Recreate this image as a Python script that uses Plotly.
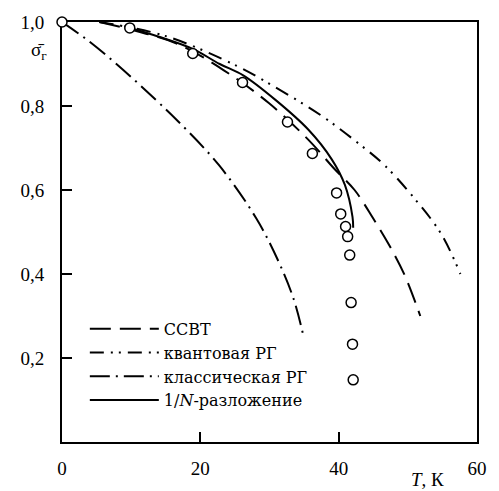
import plotly.graph_objects as go

# ССВТ (long dash)
ssvt_T = [5.4, 10.6, 16.7, 23.4, 29.9, 35.6, 39.4, 42.3, 45.0, 47.4, 49.6, 51.8]
ssvt_s = [1.0, 0.979, 0.948, 0.885, 0.807, 0.72, 0.65, 0.60, 0.532, 0.466, 0.395, 0.30]

# квантовая РГ (dash-dot-dot)
qrg_T = [5.4, 14.9, 25.2, 30.6, 37.6, 42.7, 46.5, 50.8, 54.8, 57.6]
qrg_s = [1.0, 0.967, 0.896, 0.847, 0.776, 0.713, 0.661, 0.583, 0.496, 0.40]

# классическая РГ (dash-dot)
crg_T = [0.0, 4.0, 8.9, 13.6, 16.7, 22.7, 28.1, 31.3, 33.5, 34.8]
crg_s = [1.0, 0.953, 0.885, 0.814, 0.765, 0.659, 0.532, 0.43, 0.34, 0.26]

# 1/N-разложение (solid)
n_T = [9.0, 14.0, 18.9, 22.8, 26.2, 30.9, 35.6, 39.0, 40.9, 42.0, 42.1]
n_s = [0.99, 0.965, 0.936, 0.90, 0.873, 0.814, 0.744, 0.673, 0.612, 0.536, 0.51]

# experimental points
exp_T = [0.0, 9.8, 18.9, 26.1, 32.6, 36.2, 39.7, 40.3, 41.0, 41.3, 41.6, 41.8, 42.0, 42.1]
exp_s = [1.0, 0.986, 0.925, 0.856, 0.762, 0.687, 0.593, 0.543, 0.513, 0.489, 0.445, 0.332, 0.233, 0.148]

x_ticks = [0, 20, 40, 60]
x_labels = ["0", "20", "40", "60"]
y_ticks = [0.2, 0.4, 0.6, 0.8, 1.0]
y_labels = ["0,2", "0,4", "0,6", "0,8", "1,0"]

FONT = "Times New Roman"
LEGEND_FONT = "DejaVu Serif"
fig = go.Figure()
fig.add_trace(go.Scatter(x=ssvt_T, y=ssvt_s, mode="lines", name="ССВТ",
                         line=dict(color="black", width=2, dash="21px,9px", shape="spline")))
fig.add_trace(go.Scatter(x=qrg_T, y=qrg_s, mode="lines", name="квантовая РГ",
                         line=dict(color="black", width=2, dash="14px,7px,2px,6px,2px,7px", shape="spline")))
fig.add_trace(go.Scatter(x=crg_T, y=crg_s, mode="lines", name="классическая РГ",
                         line=dict(color="black", width=2, dash="20px,6px,2px,6px", shape="spline")))
fig.add_trace(go.Scatter(x=n_T, y=n_s, mode="lines", name="1/<i>N</i>-разложение",
                         line=dict(color="black", width=2, shape="spline")))
fig.add_trace(go.Scatter(x=exp_T, y=exp_s, mode="markers", showlegend=False,
                         cliponaxis=False,
                         marker=dict(symbol="circle", size=10, color="white",
                                     line=dict(color="black", width=1.5))))

fig.update_layout(
    width=499, height=491,
    margin=dict(l=62, r=13, t=18, b=48),
    plot_bgcolor="white", paper_bgcolor="white",
    font=dict(family=FONT, size=19, color="black"),
    showlegend=True,
    legend=dict(x=0.055, y=0.31, xanchor="left", yanchor="top",
                bgcolor="rgba(0,0,0,0)", borderwidth=0,
                font=dict(family=LEGEND_FONT, size=16), itemwidth=69,
                tracegroupgap=0),
)
fig.update_xaxes(range=[0, 60], tickvals=x_ticks, ticktext=x_labels,
                 ticks="inside", ticklen=10, tickwidth=1.5, tickcolor="black",
                 showline=True, linecolor="black", linewidth=2, mirror=True,
                 showgrid=False, zeroline=False, ticklabelstandoff=8,
                 layer="below traces")
fig.update_yaxes(range=[0, 1.0], tickvals=y_ticks, ticktext=y_labels,
                 ticks="inside", ticklen=10, tickwidth=1.5, tickcolor="black",
                 showline=True, linecolor="black", linewidth=2, mirror=True,
                 showgrid=False, zeroline=False, ticklabelstandoff=12,
                 layer="below traces")

fig.add_annotation(text="σ̄<sub>г</sub>", xref="paper", yref="paper",
                   x=-0.055, y=0.93, xanchor="center", yanchor="middle",
                   showarrow=False, font=dict(family=FONT, size=19))
fig.add_annotation(text="<i>T</i>, К", xref="paper", yref="paper",
                   x=0.88, y=-0.09, xanchor="center", yanchor="middle",
                   showarrow=False, font=dict(family=FONT, size=19))

fig.write_html("out.html")
